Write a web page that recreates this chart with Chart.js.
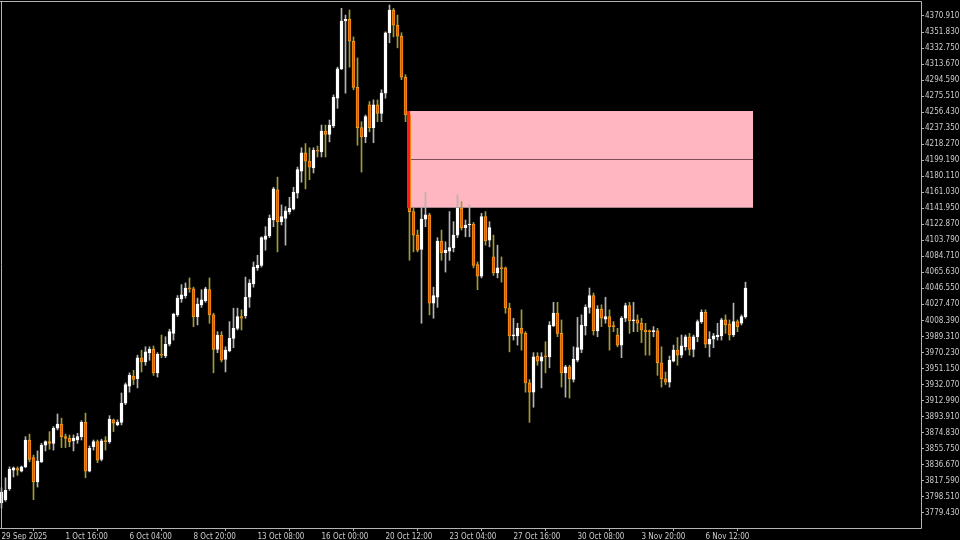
<!DOCTYPE html>
<html>
<head>
<meta charset="utf-8">
<title>XAUUSD H4</title>
<script src="https://cdn.jsdelivr.net/npm/chart.js@4.4.1/dist/chart.umd.min.js"></script>
<style>
  html, body { margin: 0; padding: 0; background: #000; }
  canvas { display: block; background: #000; }
</style>
</head>
<body>
<canvas id="chart" width="960" height="540"></canvas>
<script>
// H4 candles, 29 Sep 2025 -> 10 Nov 2025
const open = [
  3791, 3795, 3808, 3830, 3832, 3829, 3834, 3866, 3845, 3816,
  3840, 3860, 3864, 3862, 3880, 3885, 3870, 3868, 3865, 3866,
  3870, 3887, 3829, 3858, 3864, 3843, 3865, 3864, 3890, 3884,
  3887, 3910, 3930, 3942, 3939, 3964, 3959, 3970, 3974, 3946,
  3968, 3966, 3980, 3993, 4015, 4034, 4038, 4047, 4046, 4013,
  4027, 4032, 4045, 4015, 3974, 3991, 3962, 3972, 3987, 3999,
  4013, 4014, 4036, 4052, 4071, 4074, 4105, 4109, 4128, 4164,
  4126, 4130, 4138, 4141, 4160, 4186, 4208, 4198, 4190, 4211,
  4209, 4234, 4230, 4240, 4273, 4308, 4365, 4367, 4341, 4286,
  4238, 4227, 4265, 4238, 4265, 4255, 4279, 4351, 4378, 4360,
  4347, 4298, 4253, 4138, 4110, 4093, 4129, 4134, 4029, 4036,
  4103, 4089, 4091, 4095, 4110, 4142, 4119, 4122, 4123, 4075,
  4061, 4132, 4104, 4084, 4065, 4071, 4071, 4023, 3990, 3990,
  3999, 3993, 3934, 3923, 3966, 3960, 3966, 3965, 4002, 4017,
  3993, 3946, 3953, 3938, 3961, 3974, 4002, 4024, 4038, 3996,
  4022, 4010, 4013, 4002, 3991, 3979, 4011, 4026, 4008, 4009,
  4005, 3997, 3996, 3995, 3996, 3958, 3939, 3935, 3960, 3973,
  3967, 3977, 3989, 3974, 3989, 4007, 4018, 3980, 3986, 3989,
  3990, 4009, 4004, 3991, 4007, 4005, 4013
];
const high = [
  3809, 3821, 3834, 3834, 3834, 3835, 3870, 3873, 3848, 3853,
  3862, 3865, 3876, 3882, 3897, 3892, 3873, 3872, 3872, 3874,
  3889, 3898, 3859, 3866, 3866, 3867, 3870, 3895, 3891, 3890,
  3922, 3934, 3946, 3949, 3967, 3973, 3977, 3977, 3978, 3970,
  3991, 3989, 3998, 4017, 4038, 4051, 4053, 4059, 4048, 4035,
  4045, 4048, 4059, 4017, 3995, 3995, 3977, 4007, 4023, 4023,
  4021, 4060, 4057, 4078, 4086, 4108, 4120, 4134, 4167, 4179,
  4146, 4144, 4155, 4167, 4191, 4214, 4219, 4214, 4214, 4216,
  4241, 4241, 4247, 4277, 4310, 4380, 4372, 4378, 4346, 4321,
  4245, 4253, 4269, 4271, 4271, 4283, 4352, 4384, 4380, 4372,
  4351, 4301, 4257, 4142, 4116, 4144, 4161, 4136, 4048, 4107,
  4116, 4102, 4138, 4126, 4158, 4150, 4128, 4146, 4125, 4078,
  4136, 4138, 4126, 4110, 4098, 4084, 4072, 4029, 4011, 4005,
  4021, 3995, 3938, 3970, 3970, 3970, 3983, 4007, 4030, 4030,
  4009, 3955, 3955, 3977, 4012, 4015, 4027, 4047, 4041, 4026,
  4027, 4036, 4021, 4007, 3999, 4013, 4029, 4030, 4030, 4015,
  4011, 4005, 3997, 4001, 3999, 3977, 3947, 3966, 3979, 3988,
  3991, 3991, 3993, 3991, 4009, 4021, 4021, 3995, 3993, 4005,
  4011, 4015, 4009, 4029, 4009, 4015, 4054
];
const low = [
  3785, 3793, 3806, 3822, 3824, 3828, 3833, 3840, 3795, 3810,
  3839, 3853, 3855, 3854, 3878, 3857, 3857, 3858, 3853, 3862,
  3866, 3821, 3828, 3854, 3839, 3841, 3854, 3862, 3876, 3883,
  3884, 3908, 3923, 3932, 3928, 3947, 3955, 3961, 3943, 3941,
  3964, 3964, 3978, 3985, 4013, 4030, 4035, 4042, 4001, 4003,
  4024, 4030, 4005, 3946, 3970, 3959, 3947, 3971, 3976, 3997,
  3997, 4011, 4024, 4048, 4068, 4072, 4092, 4107, 4120, 4090,
  4122, 4098, 4135, 4140, 4154, 4173, 4165, 4176, 4184, 4203,
  4203, 4203, 4221, 4238, 4261, 4307, 4279, 4310, 4283, 4217,
  4185, 4220, 4233, 4220, 4245, 4245, 4273, 4339, 4346, 4333,
  4295, 4245, 4080, 4090, 4090, 4005, 4120, 4015, 4011, 4024,
  4080, 4066, 4080, 4090, 4107, 4116, 4108, 4108, 4071, 4045,
  4059, 4098, 4096, 4062, 4059, 4054, 4017, 3971, 3985, 3979,
  3973, 3923, 3887, 3905, 3955, 3928, 3946, 3952, 4001, 3989,
  3929, 3917, 3916, 3935, 3959, 3970, 3991, 4017, 3991, 3989,
  4001, 4005, 3973, 3995, 3977, 3964, 4007, 3993, 3995, 3995,
  3982, 3967, 3967, 3989, 3943, 3929, 3932, 3929, 3959, 3955,
  3964, 3973, 3967, 3965, 3983, 4005, 3976, 3965, 3976, 3985,
  3985, 3993, 3985, 3989, 3995, 4003, 4011
];
const close = [
  3804, 3806, 3831, 3833, 3830, 3834, 3866, 3843, 3816, 3841,
  3860, 3864, 3862, 3880, 3885, 3870, 3868, 3864, 3868, 3870,
  3887, 3829, 3856, 3864, 3842, 3865, 3864, 3891, 3886, 3887,
  3910, 3932, 3943, 3938, 3964, 3959, 3971, 3974, 3946, 3968,
  3967, 3980, 3995, 4016, 4035, 4039, 4047, 4046, 4013, 4028,
  4033, 4046, 4015, 3974, 3991, 3961, 3973, 3987, 3999, 4013,
  4011, 4036, 4053, 4072, 4074, 4107, 4109, 4130, 4165, 4126,
  4132, 4139, 4142, 4161, 4188, 4208, 4198, 4191, 4211, 4210,
  4234, 4230, 4241, 4274, 4308, 4365, 4367, 4341, 4286, 4238,
  4227, 4251, 4238, 4265, 4255, 4279, 4351, 4378, 4360, 4347,
  4298, 4253, 4138, 4110, 4092, 4129, 4134, 4029, 4038, 4103,
  4089, 4092, 4095, 4110, 4142, 4119, 4122, 4123, 4074, 4061,
  4132, 4103, 4119, 4065, 4071, 4070, 4023, 3990, 3991, 3999,
  3993, 3934, 3923, 3965, 3960, 3965, 3965, 4003, 4017, 3993,
  3946, 3953, 3939, 3962, 3976, 4003, 4024, 4038, 3996, 4022,
  4011, 4013, 4001, 4001, 3979, 4011, 4026, 4008, 4009, 4005,
  3997, 3995, 3995, 3996, 3958, 3939, 3935, 3961, 3973, 3967,
  3978, 3989, 3974, 3989, 4007, 4018, 3980, 3986, 3990, 3991,
  4009, 4003, 3991, 4007, 4001, 4013, 4047
];

const timeTickBars = [0, 16, 32, 48, 64, 80, 96, 112, 128, 144, 160, 176];
const timeTickLabels = [
  '29 Sep 2025', '1 Oct 16:00', '6 Oct 04:00', '8 Oct 20:00', '13 Oct 08:00', '16 Oct 00:00',
  '20 Oct 12:00', '23 Oct 04:00', '27 Oct 16:00', '30 Oct 08:00', '3 Nov 20:00', '6 Nov 12:00'
];
const priceTicks = [
  4370.910, 4351.830, 4332.750, 4313.670, 4294.590, 4275.510, 4256.430, 4237.350,
  4218.270, 4199.190, 4180.110, 4161.030, 4141.950, 4122.870, 4103.790, 4084.710,
  4065.630, 4046.550, 4027.470, 4008.390, 3989.310, 3970.230, 3951.150, 3932.070,
  3912.990, 3893.910, 3874.830, 3855.750, 3836.670, 3817.590, 3798.510, 3779.430
];

// supply zone rectangle (bar index / price)
const zoneFrom = 101.375;
const zoneTo = 187.8;
const zoneTop = 4257.8;
const zoneBottom = 4143.8;
const zoneMid = 4200.8;

// visible window
const xMin = -0.375, xMax = 229.875;
const yMin = 3761.22, yMax = 4388.77;

const bullBody = '#FFFFFF';
const bullWick = '#B4B4B4';
const bearBody = '#FF4500';
const bearBorder = '#E8A020';
const bearWick = '#A49A3C';
const frameColor = '#B4B4B4';
const textColor = '#CCCCCC';
const axisFont = { family: "'Liberation Sans Narrow', 'DejaVu Sans Condensed', 'Liberation Sans', sans-serif", size: 8 };

const isBull = i => close[i] >= open[i];

const bodies = open.map((o, i) => ({ x: i, y: [o, close[i]] }));
const wicks = low.map((l, i) => ({ x: i, y: [l, high[i]] }));

const zonePlugin = {
    id: 'zone',
    beforeDatasetsDraw(chart) {
        const { ctx, scales: { x, y } } = chart;
        const left = Math.round(x.getPixelForValue(zoneFrom));
        const right = Math.round(x.getPixelForValue(zoneTo));
        const top = Math.round(y.getPixelForValue(zoneTop));
        const bottom = Math.round(y.getPixelForValue(zoneBottom));
        ctx.save();
        ctx.fillStyle = '#FFB6C1';
        ctx.fillRect(left, top, right - left, bottom - top);
        ctx.fillStyle = '#7E4E58';
        ctx.fillRect(left, Math.round(y.getPixelForValue(zoneMid)), right - left, 1);
        ctx.fillStyle = '#A9868C';
        ctx.fillRect(left, bottom, right - left, 1);
        ctx.restore();
    },
    afterDatasetsDraw(chart) {
        const { ctx, scales: { x, y } } = chart;
        const left = Math.round(x.getPixelForValue(zoneFrom));
        const top = Math.round(y.getPixelForValue(zoneTop));
        const bottom = Math.round(y.getPixelForValue(zoneBottom));
        ctx.save();
        ctx.fillStyle = '#FF1A1A';
        ctx.fillRect(left, top, 3, bottom - top + 1);
        ctx.restore();
    },
    afterDraw(chart) {
        const { ctx, chartArea: a } = chart;
        ctx.save();
        ctx.strokeStyle = frameColor;
        ctx.lineWidth = 1;
        ctx.beginPath();
        ctx.moveTo(0, a.top + 0.5);
        ctx.lineTo(a.right + 0.5, a.top + 0.5);
        ctx.lineTo(a.right + 0.5, a.bottom + 0.5);
        ctx.lineTo(0, a.bottom + 0.5);
        ctx.moveTo(1.5, a.top);
        ctx.lineTo(1.5, a.bottom);
        ctx.stroke();
        ctx.restore();
    }
};

new Chart(document.getElementById('chart'), {
    type: 'bar',
    data: {
        datasets: [
            {
                label: 'body',
                data: bodies,
                barThickness: 3,
                minBarLength: 1,
                grouped: false,
                borderSkipped: false,
                borderWidth: 1,
                backgroundColor: ctx => isBull(ctx.dataIndex) ? bullBody : bearBody,
                borderColor: ctx => isBull(ctx.dataIndex) ? bullBody : bearBorder
            },
            {
                label: 'wick',
                data: wicks,
                barThickness: 1,
                grouped: false,
                borderWidth: 0,
                backgroundColor: ctx => isBull(ctx.dataIndex) ? bullWick : bearWick
            }
        ]
    },
    options: {
        responsive: false,
        animation: false,
        layout: { padding: { top: 1, left: 0, right: 0, bottom: 0 } },
        plugins: {
            legend: { display: false },
            tooltip: { enabled: false }
        },
        scales: {
            x: {
                type: 'linear',
                min: xMin,
                max: xMax,
                offset: false,
                border: { display: false },
                grid: { drawOnChartArea: false, drawTicks: true, tickLength: 3, color: frameColor },
                ticks: {
                    autoSkip: false,
                    maxRotation: 0,
                    minRotation: 0,
                    align: 'start',
                    padding: 1,
                    color: textColor,
                    font: axisFont,
                    callback: (v, i) => timeTickLabels[i]
                },
                afterBuildTicks: scale => {
                    scale.ticks = timeTickBars.map(v => ({ value: v }));
                },
                afterFit: scale => {
                    scale.height = 12;
                    scale.paddingLeft = 0;
                    scale.paddingRight = 0;
                }
            },
            y: {
                type: 'linear',
                position: 'right',
                min: yMin,
                max: yMax,
                border: { display: false },
                grid: { drawOnChartArea: false, drawTicks: true, tickLength: 3, color: frameColor },
                ticks: {
                    autoSkip: false,
                    padding: 1,
                    color: textColor,
                    font: axisFont,
                    callback: v => v.toFixed(3)
                },
                afterBuildTicks: scale => {
                    scale.ticks = priceTicks.map(v => ({ value: v }));
                },
                afterFit: scale => {
                    scale.width = 39;
                    scale.paddingTop = 0;
                    scale.paddingBottom = 0;
                }
            }
        }
    },
    plugins: [zonePlugin]
});
</script>
</body>
</html>
